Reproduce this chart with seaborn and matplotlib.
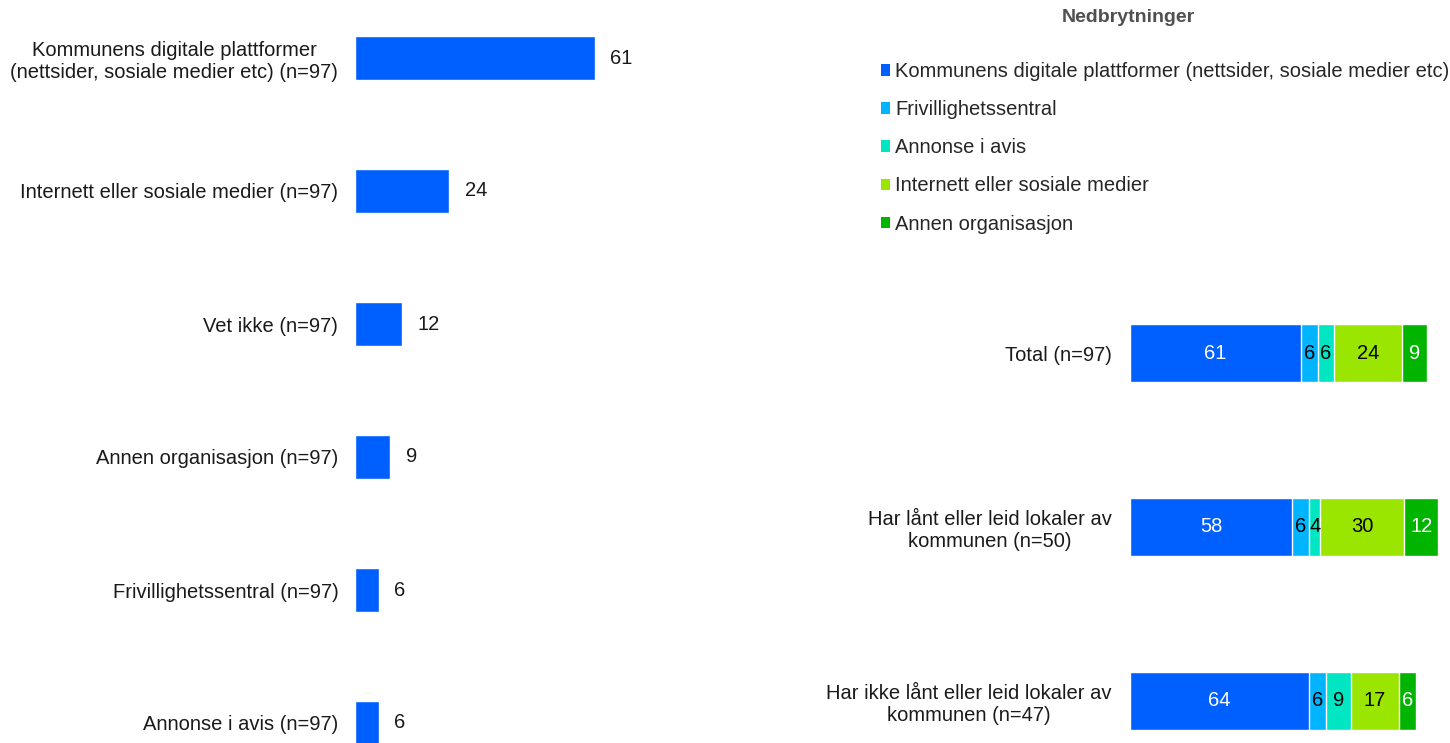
import numpy as np
import pandas as pd
import matplotlib.pyplot as plt
from matplotlib.patches import Patch
import seaborn as sns

# Left panel: total share per channel
channels = [
    "Kommunens digitale plattformer\n(nettsider, sosiale medier etc) (n=97)",
    "Internett eller sosiale medier (n=97)",
    "Vet ikke (n=97)",
    "Annen organisasjon (n=97)",
    "Frivillighetssentral (n=97)",
    "Annonse i avis (n=97)",
]
channel_values = [61, 24, 12, 9, 6, 6]

# Right panel: breakdown by group
groups = [
    "Total (n=97)",
    "Har lånt eller leid lokaler av\nkommunen (n=50)",
    "Har ikke lånt eller leid lokaler av\nkommunen (n=47)",
]
series_names = [
    "Kommunens digitale plattformer (nettsider, sosiale medier etc)",
    "Frivillighetssentral",
    "Annonse i avis",
    "Internett eller sosiale medier",
    "Annen organisasjon",
]
series_values = [
    [61, 58, 64],
    [6, 6, 6],
    [6, 4, 9],
    [24, 30, 17],
    [9, 12, 6],
]
colors = ["#0060FF", "#00B4FF", "#00E6C3", "#9BE600", "#00B400"]
text_colors = ["white", "black", "black", "black", "white"]

sns.set_theme(style="white")
plt.rcParams["font.family"] = ["Liberation Sans", "DejaVu Sans"]
FS = 14.5

W, H = 1450, 743
fig = plt.figure(figsize=(W / 100, H / 100), dpi=100)

# ---- left panel ----
axL = fig.add_axes([355 / W, 0, 445 / W, 1])
dfL = pd.DataFrame({"cat": channels, "val": channel_values})
sns.barplot(data=dfL, y="cat", x="val", orient="h", color=colors[0],
            width=0.33, saturation=1, ax=axL)
axL.set_xlim(0, 445 / 3.93)
axL.set_ylim((743 - 58) / 133, -58 / 133)
for i, v in enumerate(channel_values):
    axL.annotate(str(v), (v, i), xytext=(11, 0), textcoords="offset points",
                 va="center", ha="left", fontsize=FS, color="#1a1a1a")
axL.set_xlabel("")
axL.set_ylabel("")
axL.set_xticks([])
axL.tick_params(axis="y", length=0, pad=12, labelsize=FS, labelcolor="#1a1a1a")
for lbl in axL.get_yticklabels():
    lbl.set_multialignment("center")
sns.despine(ax=axL, left=True, bottom=True)

# ---- right panel (stacked) ----
axR = fig.add_axes([1130 / W, 0, 320 / W, (743 - 300) / H])
cum = np.cumsum(np.array(series_values), axis=0)
# draw cumulative totals from the widest down so each layer shows its own share
for k in range(len(series_names) - 1, -1, -1):
    dfk = pd.DataFrame({"grp": groups, "val": cum[k]})
    sns.barplot(data=dfk, y="grp", x="val", orient="h", color=colors[k],
                width=0.333, saturation=1, ax=axR)
for k in range(len(series_names)):
    for i in range(len(groups)):
        v = series_values[k][i]
        start = cum[k][i] - v
        axR.text(start + v / 2, i, str(v), ha="center", va="center",
                 fontsize=FS, color=text_colors[k])
axR.set_xlim(0, 320 / 2.8)
axR.set_ylim((743 - 353) / 174, (300 - 353) / 174)
axR.set_xlabel("")
axR.set_ylabel("")
axR.set_xticks([])
axR.tick_params(axis="y", length=0, pad=13, labelsize=FS, labelcolor="#1a1a1a")
for lbl in axR.get_yticklabels():
    lbl.set_multialignment("center")
sns.despine(ax=axR, left=True, bottom=True)

# ---- legend ----
fig.text(1128 / W, 1 - 18 / H, "Nedbrytninger", ha="center", va="center",
         fontsize=14, fontweight="bold", color="#505050")
handles = [Patch(facecolor=c, edgecolor="none") for c in colors]
fig.legend(handles, series_names, loc="upper left",
           bbox_to_anchor=(881 / W, 1 - 62 / H), frameon=False, fontsize=FS,
           handlelength=0.45, handleheight=0.5, handletextpad=0.25,
           labelspacing=0.95, borderaxespad=0, borderpad=0)

fig.savefig("out.png", dpi=100)
